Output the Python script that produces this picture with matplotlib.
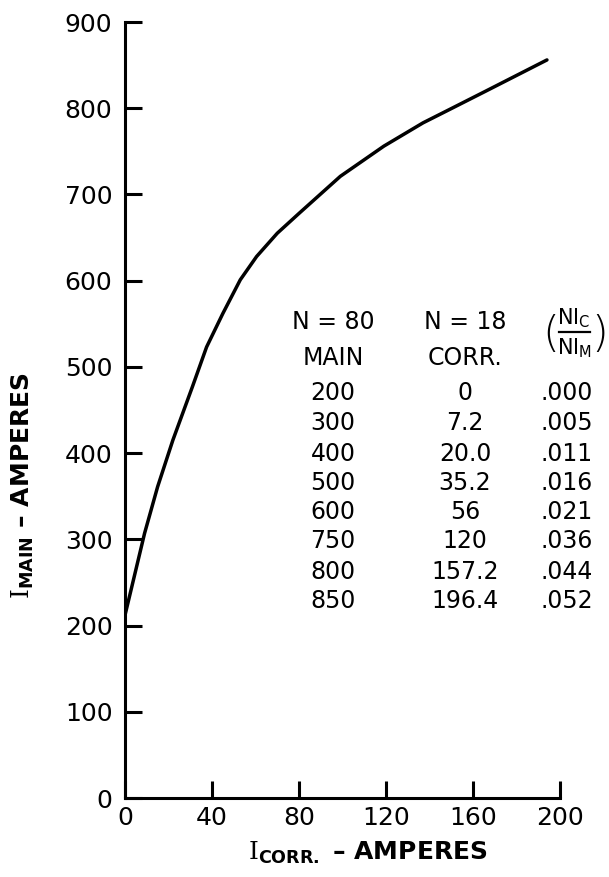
import matplotlib.pyplot as plt

plt.rcParams['font.family'] = ['DejaVu Sans']
plt.rcParams['mathtext.fontset'] = 'custom'
plt.rcParams['mathtext.rm'] = 'DejaVu Serif'
plt.rcParams['mathtext.bf'] = 'DejaVu Sans:bold'
plt.rcParams['mathtext.sf'] = 'DejaVu Sans'

# curve
i_corr = [0, 9, 15, 22, 31, 37.5, 45, 53, 60.5, 70, 80, 99, 119, 137, 148, 166, 194]
i_main = [212, 307, 361, 415, 477, 523, 562, 601, 628, 655, 678, 721, 756, 783, 797, 820, 856]

# table
main_vals = ['200', '300', '400', '500', '600', '750', '800', '850']
corr_vals = ['0', '7.2', '20.0', '35.2', '56', '120', '157.2', '196.4']
ratio_vals = ['.000', '.005', '.011', '.016', '.021', '.036', '.044', '.052']

x_ticks = [0, 40, 80, 120, 160, 200]
y_ticks = [0, 100, 200, 300, 400, 500, 600, 700, 800, 900]

fig = plt.figure(figsize=(6.09, 8.77), dpi=100)
ax = fig.add_axes([125 / 609, 1 - 798 / 877, 435 / 609, 776 / 877])

ax.plot(i_corr, i_main, color='black', lw=2.5, solid_capstyle='round',
        solid_joinstyle='round')

ax.set_xlim(0, 200)
ax.set_ylim(0, 900)
ax.set_xticks(x_ticks)
ax.set_yticks(y_ticks)
ax.spines['top'].set_visible(False)
ax.spines['right'].set_visible(False)
for s in ['left', 'bottom']:
    ax.spines[s].set_linewidth(2.2)
ax.tick_params(direction='in', length=12, width=2.2, labelsize=18, pad=9)
ax.tick_params(axis='x', pad=6)

ax.set_xlabel(r'$\mathrm{I}_{\mathbf{CORR.}}$ – AMPERES', fontsize=18,
              fontweight='bold')
ax.set_ylabel(r'$\mathrm{I}_{\mathbf{MAIN}}$ – AMPERES', fontsize=18,
              fontweight='bold')
ax.xaxis.set_label_coords((368 - 125) / 435, (798 - 840) / 776)
ax.yaxis.set_label_coords((36 - 125) / 435, (798 - 486) / 776)


def ax_pos(px, py):
    return (px - 125) / 435, (798 - py) / 776


fs = 17
col_x = [333, 465, 567]
for cx, txt in zip(col_x[:2], ['N = 80', 'N = 18']):
    ax.text(*ax_pos(cx, 322), txt, transform=ax.transAxes, ha='center',
            va='center', fontsize=fs)
for cx, txt in zip(col_x[:2], ['MAIN', 'CORR.']):
    ax.text(*ax_pos(cx, 358), txt, transform=ax.transAxes, ha='center',
            va='center', fontsize=fs)

# (NI_C / NI_M) header
ax.text(*ax_pos(574, 318), r'NI$_\mathsf{C}$', transform=ax.transAxes,
        ha='center', va='center', fontsize=15)
ax.text(*ax_pos(575, 348), r'NI$_\mathsf{M}$', transform=ax.transAxes,
        ha='center', va='center', fontsize=15)
x0, yl = ax_pos(559, 332)
x1, _ = ax_pos(590, 332)
ax.plot([x0, x1], [yl, yl], transform=ax.transAxes, color='black', lw=1.6,
        clip_on=False)
ax.text(*ax_pos(551, 334), '(', transform=ax.transAxes, ha='center',
        va='center', fontsize=31, fontweight='light')
ax.text(*ax_pos(600, 334), ')', transform=ax.transAxes, ha='center',
        va='center', fontsize=31, fontweight='light')

row_y = [393, 423, 454, 483, 512, 541, 572, 601]
for ry, a, b, c in zip(row_y, main_vals, corr_vals, ratio_vals):
    for cx, txt in zip(col_x, [a, b, c]):
        ax.text(*ax_pos(cx, ry), txt, transform=ax.transAxes, ha='center',
                va='center', fontsize=fs)

fig.savefig('out.png', dpi=100)
